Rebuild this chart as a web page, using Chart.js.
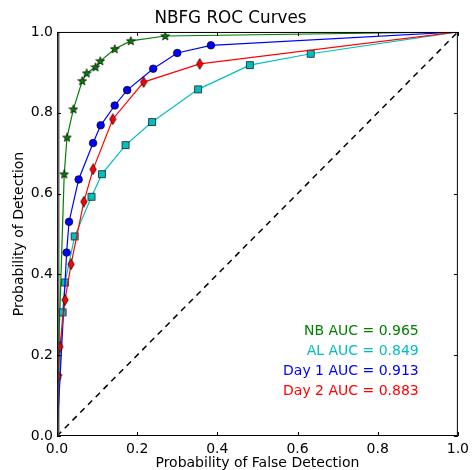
<!DOCTYPE html>
<html>
<head>
<meta charset="utf-8">
<script src="https://cdn.jsdelivr.net/npm/chart.js@4.4.1/dist/chart.umd.min.js"></script>
<style>
html,body{margin:0;padding:0;background:#fff;}
canvas{display:block;}
</style>
</head>
<body>
<canvas id="c" width="474" height="470"></canvas>
<script>
// ---- data ----
const nbX   = [0, 0.002, 0.018, 0.025, 0.041, 0.063, 0.074, 0.096, 0.108, 0.144, 0.184, 0.270, 1];
const nbY   = [0, 0.149, 0.648, 0.739, 0.809, 0.879, 0.898, 0.913, 0.928, 0.958, 0.978, 0.990, 1];
const alX   = [0, 0.014, 0.020, 0.044, 0.086, 0.112, 0.171, 0.237, 0.352, 0.481, 0.633, 1];
const alY   = [0, 0.306, 0.380, 0.494, 0.592, 0.648, 0.720, 0.777, 0.858, 0.918, 0.946, 1];
const d1X   = [0, 0.024, 0.030, 0.054, 0.090, 0.109, 0.144, 0.175, 0.240, 0.300, 0.384, 1];
const d1Y   = [0, 0.454, 0.530, 0.635, 0.725, 0.769, 0.818, 0.856, 0.909, 0.948, 0.967, 1];
const d2X   = [0, 0.003, 0.007, 0.020, 0.035, 0.067, 0.090, 0.139, 0.216, 0.356, 1];
const d2Y   = [0, 0.147, 0.221, 0.337, 0.425, 0.580, 0.660, 0.784, 0.876, 0.921, 1];
const diagX = [0, 1];
const diagY = [0, 1];
const tickValues = [0, 0.2, 0.4, 0.6, 0.8, 1.0];
const aucLabels = ['NB AUC = 0.965', 'AL AUC = 0.849', 'Day 1 AUC = 0.913', 'Day 2 AUC = 0.883'];
const titleText = 'NBFG ROC Curves';
const xTitle = 'Probability of False Detection';
const yTitle = 'Probability of Detection';

const GREEN = 'rgb(0,128,0)', CYAN = 'rgb(0,191,191)', BLUE = 'rgb(0,0,255)', RED = 'rgb(255,0,0)';
const aucColors = [GREEN, CYAN, BLUE, RED];
const FONT = 'DejaVu Sans';

function toPts(xs, ys){ return xs.map((x,i)=>({x:x, y:ys[i]})); }

function makeMarker(kind, fill){
  const c = document.createElement('canvas');
  const w = kind==='diamond' ? 8 : 10, h = kind==='diamond' ? 12 : 10;
  c.width = w; c.height = h;
  const g = c.getContext('2d');
  g.fillStyle = fill; g.strokeStyle = '#000'; g.lineWidth = 0.7;
  g.beginPath();
  if (kind==='star'){
    const cx=5, cy=5.3, R=4.6, r=1.9;
    for(let i=0;i<10;i++){
      const a = -Math.PI/2 + i*Math.PI/5;
      const rr = i%2===0 ? R : r;
      const px = cx + rr*Math.cos(a), py = cy + rr*Math.sin(a);
      if(i===0) g.moveTo(px,py); else g.lineTo(px,py);
    }
    g.closePath();
  } else if (kind==='diamond'){
    g.moveTo(4,0.6); g.lineTo(7.2,6); g.lineTo(4,11.4); g.lineTo(0.8,6); g.closePath();
  } else if (kind==='square'){
    g.rect(1.5,1.5,7,7);
  }
  g.fill(); g.stroke();
  return c;
}
const starImg = makeMarker('star', GREEN);
const diaImg = makeMarker('diamond', RED);
const sqImg = makeMarker('square', CYAN);

function endHidden(r){
  return ctx => { const v = ctx.raw; return (v && ((v.x===0&&v.y===0)||(v.x===1&&v.y===1))) ? 0 : r; };
}

const frameAndText = {
  id: 'frameAndText',
  afterDatasetsDraw(chart){
    const {ctx, chartArea:a, scales:{x, y}} = chart;
    ctx.save();
    // frame
    ctx.strokeStyle = '#000'; ctx.lineWidth = 1;
    ctx.strokeRect(a.left+0.5, a.top+0.5, a.right-a.left-1, a.bottom-a.top-1);
    ctx.strokeStyle = 'rgba(60,60,60,0.8)'; ctx.lineWidth = 2;
    ctx.beginPath(); ctx.moveTo(a.left+1.5, a.top); ctx.lineTo(a.left+1.5, a.bottom); ctx.stroke();
    // inward ticks on all four sides
    ctx.strokeStyle = '#000'; ctx.lineWidth = 1;
    const L = 4;
    tickValues.forEach(v => {
      const px = Math.round(x.getPixelForValue(v)) + 0.5;
      const py = Math.round(y.getPixelForValue(v)) + 0.5;
      ctx.beginPath();
      ctx.moveTo(px, a.bottom); ctx.lineTo(px, a.bottom - L);
      ctx.moveTo(px, a.top); ctx.lineTo(px, a.top + L);
      ctx.moveTo(a.left, py); ctx.lineTo(a.left + L, py);
      ctx.moveTo(a.right, py); ctx.lineTo(a.right - L, py);
      ctx.stroke();
    });
    // AUC annotations
    ctx.font = '14px "' + FONT + '"';
    ctx.textAlign = 'right'; ctx.textBaseline = 'middle';
    aucLabels.forEach((t, i) => {
      ctx.fillStyle = aucColors[i];
      ctx.fillText(t, x.getPixelForValue(0.9) + 1, y.getPixelForValue(0.258 - 0.0495*i));
    });
    ctx.restore();
  }
};

const lineDs = (label, xs, ys, color, style, radius) => ({
  label, data: toPts(xs, ys), showLine: true, borderColor: color, borderWidth: 1.2,
  pointStyle: style, pointRadius: endHidden(radius), pointBackgroundColor: color,
  pointBorderColor: '#000', pointBorderWidth: 0.7, fill: false, tension: 0
});

new Chart(document.getElementById('c'), {
  type: 'scatter',
  data: {
    datasets: [
      {label:'diag', data: toPts(diagX, diagY), showLine:true, borderColor:'#000', borderWidth:1.5,
       borderDash:[6,5], pointRadius:0, fill:false},
      lineDs('Day 2', d2X, d2Y, RED, diaImg, 5),
      lineDs('Day 1', d1X, d1Y, BLUE, 'circle', 3.8),
      lineDs('AL', alX, alY, CYAN, sqImg, 5),
      lineDs('NB', nbX, nbY, GREEN, starImg, 5)
    ]
  },
  options: {
    responsive: false, animation: false, devicePixelRatio: 1,
    layout: { padding: { left: 0, right: 13, top: 0, bottom: 0 } },
    plugins: {
      legend: { display: false }, tooltip: { enabled: false },
      title: { display: true, text: titleText, color: '#000',
               font: { family: FONT, size: 16.8, weight: 'normal', lineHeight: 1.2 },
               padding: { top: 9, bottom: 2.8 } }
    },
    scales: {
      x: { type: 'linear', min: 0, max: 1,
           afterFit: s => { s.height = 34; },
           afterBuildTicks: s => { s.ticks = tickValues.map(v => ({value: v})); },
           ticks: { color: '#000', font: { family: FONT, size: 14 }, padding: 5, maxRotation: 0,
                    callback: v => Number(v).toFixed(1) },
           grid: { display: false, drawTicks: false },
           border: { display: false },
           title: { display: true, text: xTitle, color: '#000', font: { family: FONT, size: 14, lineHeight: 1.0 },
                    padding: { top: 0, bottom: 0 } } },
      y: { type: 'linear', min: 0, max: 1,
           afterFit: s => { s.width = 57; },
           afterBuildTicks: s => { s.ticks = tickValues.map(v => ({value: v})); },
           ticks: { color: '#000', font: { family: FONT, size: 14 }, padding: 4,
                    callback: v => Number(v).toFixed(1) },
           grid: { display: false, drawTicks: false },
           border: { display: false },
           title: { display: true, text: yTitle, color: '#000', font: { family: FONT, size: 14, lineHeight: 1.1 },
                    padding: { top: 11.3, bottom: 0 } } }
    }
  },
  plugins: [frameAndText]
});
</script>
</body>
</html>
